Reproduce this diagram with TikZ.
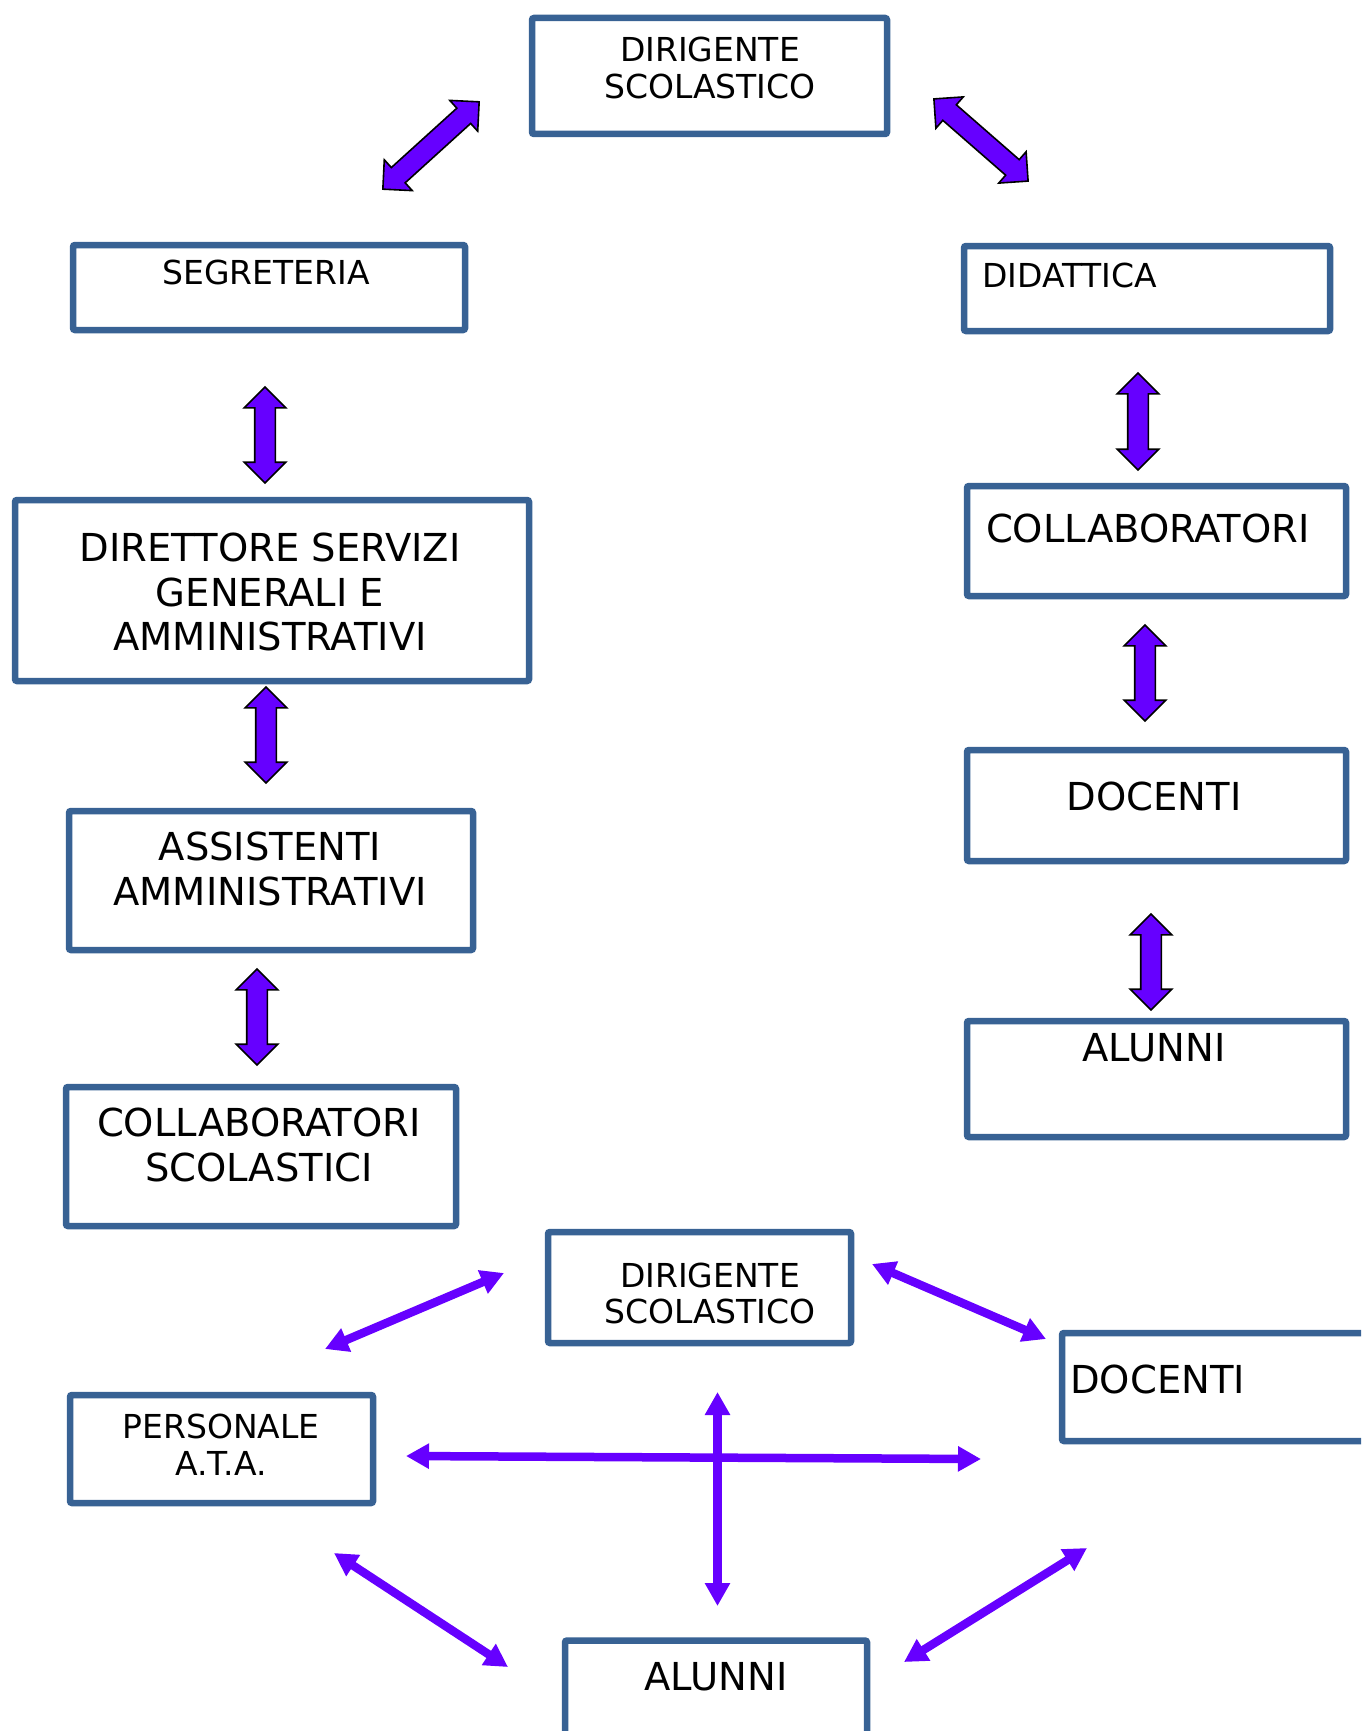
\documentclass[tikz,border=0pt]{standalone}
\usepackage{fontspec}
\setmainfont{DejaVu Sans}
\usetikzlibrary{shapes.arrows,arrows.meta}
\definecolor{boxblue}{RGB}{56,98,148}
\definecolor{arrpurple}{RGB}{102,0,255}
\tikzset{
  orgbox/.style={draw=boxblue, line width=6.5pt, rounded corners=2pt, fill=white, inner sep=0pt},
  smalltxt/.style={inner sep=0pt, align=center, font=\fontsize{33}{36.5}\selectfont},
  bigtxt/.style={inner sep=0pt, align=center, font=\fontsize{38.5}{44.5}\selectfont},
  blockarrow/.style={double arrow, draw=black, line width=1.6pt, fill=arrpurple, inner xsep=0pt, inner ysep=9.5pt,
     minimum width=40pt, double arrow head extend=10.5pt, double arrow tip angle=90},
  thinarrow/.style={draw=arrpurple, line width=8.5pt, {Triangle[length=23pt,width=24pt]}-{Triangle[length=23pt,width=24pt]}}
}
\begin{document}
\begin{tikzpicture}[x=1pt,y=-1pt]
\useasboundingbox (0,0) rectangle (1361,1731);
\clip (0,0) rectangle (1361,1731);
% boxes
\node[orgbox, minimum width=355pt, minimum height=116pt] (dtop) at (709.5,76) {};
\node[orgbox, minimum width=392pt, minimum height=85pt] (segr) at (269,287.5) {};
\node[orgbox, minimum width=366pt, minimum height=85pt] (didat) at (1147,288.5) {};
\node[orgbox, minimum width=514pt, minimum height=181pt] (dsga) at (272,590.5) {};
\node[orgbox, minimum width=379pt, minimum height=110pt] (collr) at (1156.5,541) {};
\node[orgbox, minimum width=404pt, minimum height=139pt] (assist) at (271,880.5) {};
\node[orgbox, minimum width=379pt, minimum height=111pt] (docr) at (1156.5,805.5) {};
\node[orgbox, minimum width=390pt, minimum height=139pt] (collscol) at (261,1156.5) {};
\node[orgbox, minimum width=379pt, minimum height=116pt] (alunr) at (1156.5,1079) {};
\node[orgbox, minimum width=303pt, minimum height=111pt] (dbot) at (699.5,1287.5) {};
\node[orgbox, minimum width=335pt, minimum height=108pt] (docb) at (1229.5,1387) {};
\node[orgbox, minimum width=303pt, minimum height=108pt] (ata) at (221.5,1449) {};
\node[orgbox, minimum width=302pt, minimum height=137pt] (alunb) at (716,1709) {};
% texts
\node[smalltxt] (tdtop) at (710,68) {DIRIGENTE\\SCOLASTICO};
\node[smalltxt] (tsegr) at (266,272) {SEGRETERIA};
\node[smalltxt, anchor=west] (tdidat) at (982,275) {DIDATTICA};
\node[bigtxt] (tdsga) at (270,592) {DIRETTORE SERVIZI\\GENERALI E\\AMMINISTRATIVI};
\node[bigtxt] (tcollr) at (1148,528) {COLLABORATORI};
\node[bigtxt] (tassist) at (270,869) {ASSISTENTI\\AMMINISTRATIVI};
\node[bigtxt] (tdocr) at (1154,796) {DOCENTI};
\node[bigtxt] (tcollscol) at (259,1145) {COLLABORATORI\\SCOLASTICI};
\node[bigtxt] (talunr) at (1154,1048) {ALUNNI};
\node[smalltxt] (tdbot) at (710,1293.5) {DIRIGENTE\\SCOLASTICO};
\node[bigtxt, anchor=west] (tdocb) at (1070,1379) {DOCENTI};
\node[smalltxt] (tata) at (221,1444.5) {PERSONALE\\A.T.A.};
\node[bigtxt] (talunb) at (716,1677) {ALUNNI};
% block double arrows
\node[blockarrow, minimum height=130pt, rotate=42.2] (ba1) at (431,145.5) {};
\node[blockarrow, minimum height=125pt, rotate=-41.1] (ba2) at (981,140) {};
\node[blockarrow, minimum height=96pt, rotate=90] (ba3) at (265,435) {};
\node[blockarrow, minimum height=96pt, rotate=90] (ba4) at (266,735) {};
\node[blockarrow, minimum height=96pt, rotate=90] (ba5) at (257,1017) {};
\node[blockarrow, minimum height=97pt, rotate=90] (ba6) at (1138,421.5) {};
\node[blockarrow, minimum height=96pt, rotate=90] (ba7) at (1145,673) {};
\node[blockarrow, minimum height=96pt, rotate=90] (ba8) at (1151,962) {};
% thin arrow end points
\coordinate (p1a) at (325,1349); \coordinate (p1b) at (504,1273);
\coordinate (p2a) at (872,1264); \coordinate (p2b) at (1046,1339);
\coordinate (p3a) at (406,1456); \coordinate (p3b) at (981,1459);
\coordinate (p4a) at (717.5,1392); \coordinate (p4b) at (717.5,1606);
\coordinate (p5a) at (334,1553); \coordinate (p5b) at (508,1667);
\coordinate (p6a) at (1087,1548); \coordinate (p6b) at (904,1662);
\draw[thinarrow] (p1a) -- (p1b);
\draw[thinarrow] (p2a) -- (p2b);
\draw[thinarrow] (p3a) -- (p3b);
\draw[thinarrow] (p4a) -- (p4b);
\draw[thinarrow] (p5a) -- (p5b);
\draw[thinarrow] (p6a) -- (p6b);
\end{tikzpicture}
\end{document}
